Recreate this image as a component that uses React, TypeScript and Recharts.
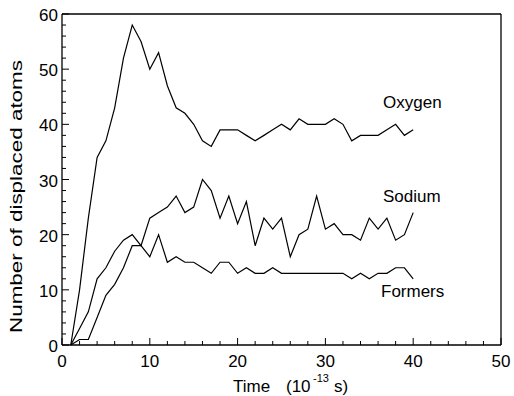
import { LineChart, Line, XAxis, YAxis, ReferenceLine } from "recharts"

const times = [1, 2, 3, 4, 5, 6, 7, 8, 9, 10, 11, 12, 13, 14, 15, 16, 17, 18, 19, 20, 21, 22, 23, 24, 25, 26, 27, 28, 29, 30, 31, 32, 33, 34, 35, 36, 37, 38, 39, 40]
const oxygen = [0, 10, 23, 34, 37, 43, 52, 58, 55, 50, 53, 47, 43, 42, 40, 37, 36, 39, 39, 39, 38, 37, 38, 39, 40, 39, 41, 40, 40, 40, 41, 40, 37, 38, 38, 38, 39, 40, 38, 39]
const sodium = [0, 3, 6, 12, 14, 17, 19, 20, 18, 23, 24, 25, 27, 24, 25, 30, 28, 23, 27, 22, 26, 18, 23, 21, 23, 16, 20, 21, 27, 21, 22, 20, 20, 19, 23, 21, 23, 19, 20, 24]
const formers = [0, 1, 1, 5, 9, 11, 14, 18, 18, 16, 20, 15, 16, 15, 15, 14, 13, 15, 15, 13, 14, 13, 13, 14, 13, 13, 13, 13, 13, 13, 13, 13, 12, 13, 12, 13, 13, 14, 14, 12]

const xTicks = [0, 2, 4, 6, 8, 10, 12, 14, 16, 18, 20, 22, 24, 26, 28, 30, 32, 34, 36, 38, 40, 42, 44, 46, 48, 50]
const yTicks = [0, 2, 4, 6, 8, 10, 12, 14, 16, 18, 20, 22, 24, 26, 28, 30, 32, 34, 36, 38, 40, 42, 44, 46, 48, 50, 52, 54, 56, 58, 60]

const data = times.map((t, i) => ({ t, oxygen: oxygen[i], sodium: sodium[i], formers: formers[i] }))

const font = '"Liberation Sans", Arial, sans-serif'

const XTick = (props: any) => {
    const { x, y, payload } = props
    const major = payload.value % 10 === 0
    return (
        <g>
            <line x1={x} x2={x} y1={y} y2={y - (major ? 7 : 4)} stroke="#000" strokeWidth={1} />
            {major && (
                <text x={x} y={367} textAnchor="middle" fontSize={17} fontFamily={font} fill="#000">
                    {payload.value}
                </text>
            )}
        </g>
    )
}

const YTick = (props: any) => {
    const { x, y, payload } = props
    const major = payload.value % 10 === 0
    return (
        <g>
            <line x1={x} x2={x + (major ? 7 : 4)} y1={y} y2={y} stroke="#000" strokeWidth={1} />
            {major && (
                <text x={x - 4} y={y + 7} textAnchor="end" fontSize={17} fontFamily={font} fill="#000">
                    {payload.value}
                </text>
            )}
        </g>
    )
}

export default function App() {
    return (
        <div style={{ position: 'fixed', left: 0, top: 0, width: 514, height: 396, background: '#fff' }}>
            <LineChart width={514} height={396} data={data} margin={{ top: 14, right: 13, left: 0, bottom: 0 }}>
                <XAxis
                    dataKey="t"
                    type="number"
                    domain={[0, 50]}
                    ticks={xTicks}
                    interval={0}
                    height={51}
                    tickSize={0}
                    tickMargin={0}
                    tickLine={false}
                    tick={<XTick />}
                    axisLine={{ stroke: '#000', strokeWidth: 1.3 }}
                />
                <YAxis
                    type="number"
                    domain={[0, 60]}
                    ticks={yTicks}
                    interval={0}
                    width={62}
                    tickSize={0}
                    tickMargin={0}
                    tickLine={false}
                    tick={<YTick />}
                    axisLine={{ stroke: '#000', strokeWidth: 1.3 }}
                />
                <ReferenceLine y={60} stroke="#000" strokeWidth={1.3} />
                <ReferenceLine x={50} stroke="#000" strokeWidth={1.3} />
                <Line dataKey="oxygen" stroke="#000" strokeWidth={1.2} dot={false} isAnimationActive={false} />
                <Line dataKey="sodium" stroke="#000" strokeWidth={1.2} dot={false} isAnimationActive={false} />
                <Line dataKey="formers" stroke="#000" strokeWidth={1.2} dot={false} isAnimationActive={false} />
            </LineChart>
            <svg width={514} height={396} style={{ position: 'absolute', left: 0, top: 0, pointerEvents: 'none' }}>
                <g fontFamily={font} fill="#000" fontSize={17}>
                    <text x={383} y={108}>Oxygen</text>
                    <text x={383} y={202}>Sodium</text>
                    <text x={381} y={297}>Formers</text>
                    <text x={233} y={392}>Time</text>
                    <text x={286} y={392}>(10</text>
                    <text x={313} y={382} fontSize={11}>-13</text>
                    <text x={334} y={392}>s)</text>
                    <text
                        transform="translate(22,196.5) rotate(-90)"
                        textAnchor="middle"
                        textLength={273}
                        lengthAdjust="spacingAndGlyphs"
                        fontSize={16}
                    >
                        Number of displaced atoms
                    </text>
                </g>
            </svg>
        </div>
    )
}
